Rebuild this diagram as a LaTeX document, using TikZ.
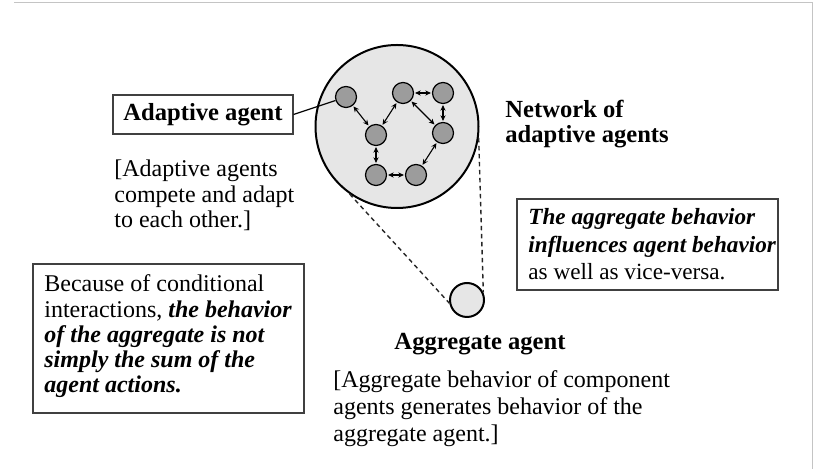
\documentclass[tikz,border=0pt]{standalone}
\usepackage{fontspec}
\setmainfont{Liberation Serif}
\usetikzlibrary{arrows.meta}
\definecolor{agentgray}{HTML}{9C9C9C}
\definecolor{lightfill}{HTML}{E6E6E6}
\definecolor{framegray}{HTML}{C4C4C4}
\definecolor{boxline}{HTML}{404040}
\begin{document}
\begin{tikzpicture}[x=0.5pt,y=-0.5pt,
  agent/.style={circle,draw=black,line width=0.6pt,fill=agentgray,minimum size=10.5pt,inner sep=0pt},
  link/.style={{Stealth[length=2.8pt,width=2.6pt]}-{Stealth[length=2.8pt,width=2.6pt]},line width=0.55pt,shorten <=0.5pt,shorten >=0.5pt},
  txt/.style={font=\fontsize{12}{12.75}\selectfont,inner sep=0pt,align=left,anchor=base west},
  frame/.style={draw=boxline,line width=0.6pt,inner sep=0pt},
  zoomline/.style={draw=black!85,line width=0.7pt,dash pattern=on 2.2pt off 1.8pt}
]
\useasboundingbox (0,0) rectangle (820,469);
% page frame
\draw[framegray,line width=0.5pt] (14,3) -- (812,3) -- (812,469);

% network circle
\node[circle,draw=black,line width=1pt,fill=lightfill,minimum size=81.5pt,inner sep=0pt] (net) at (397,126.5) {};
% aggregate agent circle
\node[circle,draw=black,line width=1pt,fill=lightfill,minimum size=17pt,inner sep=0pt] (agg) at (467,300) {};
% zoom lines
\draw[zoomline] (net.235) -- (agg.190);
\draw[zoomline] (net.352) -- (agg.25);

% agents
\node[agent] (n1) at (346,97) {};
\node[agent] (n2) at (403,93) {};
\node[agent] (n3) at (443,93) {};
\node[agent] (n4) at (376,135) {};
\node[agent] (n5) at (443,133) {};
\node[agent] (n6) at (376,175) {};
\node[agent] (n7) at (416,175) {};
\draw[link] (n1) -- (n4);
\draw[link] (n4) -- (n2);
\draw[link] (n2) -- (n3);
\draw[link] (n3) -- (n5);
\draw[link] (n2) -- (n5);
\draw[link] (n4) -- (n6);
\draw[link] (n6) -- (n7);
\draw[link] (n7) -- (n5);

% adaptive agent label
\node[frame,minimum width=90pt,minimum height=19.5pt,font=\fontsize{12.3}{12.75}\selectfont\bfseries] (aa) at (203,114.5) {Adaptive agent};
\draw[line width=0.6pt] (aa.east) -- (n1);
\node[txt] (aatxt) at (114,228) {[Adaptive agents\\compete and adapt\\to each other.]};

% network label
\node[txt,font=\fontsize{12.3}{12.5}\selectfont\bfseries] (nettxt) at (505,143) {Network of\\adaptive agents};

% influence box
\node[frame,minimum width=130.5pt,minimum height=45.5pt] (infbox) at (647.5,244.5) {};
\node[txt,font=\fontsize{11.6}{13.75}\selectfont] (inftxt) at (528,280) {\textbf{\textit{The aggregate behavior}}\\\textbf{\textit{influences agent behavior}}\\as well as vice-versa.};

% conditional box
\node[frame,minimum width=135.5pt,minimum height=74.5pt] (condbox) at (168.5,338.5) {};
\node[txt,font=\fontsize{12}{12.65}\selectfont] (condtxt) at (44,393) {Because of conditional\\interactions, \textbf{\textit{the behavior}}\\\textbf{\textit{of the aggregate is not}}\\\textbf{\textit{simply the sum of the}}\\\textbf{\textit{agent actions.}}};

% aggregate agent label
\node[inner sep=0pt,anchor=base,font=\fontsize{12.3}{12.75}\selectfont\bfseries] (aggtitle) at (480,350) {Aggregate agent};
\node[txt,font=\fontsize{12}{13.5}\selectfont] (aggtxt) at (333,442) {[Aggregate behavior of component\\agents generates behavior of the\\aggregate agent.]};
\end{tikzpicture}
\end{document}
